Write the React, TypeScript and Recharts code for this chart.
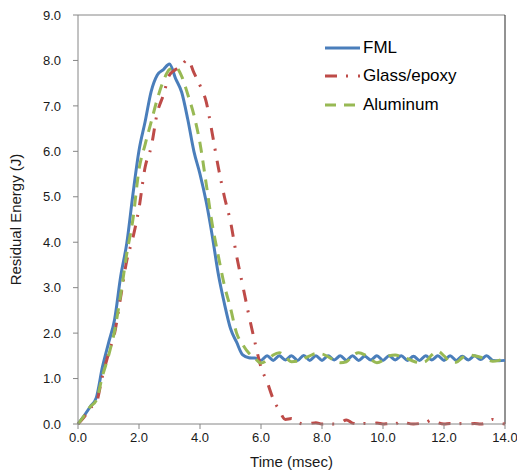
import React from 'react';
import {
  LineChart,
  Line,
  XAxis,
  YAxis,
  ReferenceLine,
} from 'recharts';

// time in msec, sampled every 0.2
const time = [
  0.0, 0.2, 0.4, 0.6, 0.8, 1.0, 1.2, 1.4, 1.6, 1.8,
  2.0, 2.2, 2.4, 2.6, 2.8, 3.0, 3.2, 3.4, 3.6, 3.8,
  4.0, 4.2, 4.4, 4.6, 4.8, 5.0, 5.2, 5.4, 5.6, 5.8,
  6.0, 6.2, 6.4, 6.6, 6.8, 7.0, 7.2, 7.4, 7.6, 7.8,
  8.0, 8.2, 8.4, 8.6, 8.8, 9.0, 9.2, 9.4, 9.6, 9.8,
  10.0, 10.2, 10.4, 10.6, 10.8, 11.0, 11.2, 11.4, 11.6, 11.8,
  12.0, 12.2, 12.4, 12.6, 12.8, 13.0, 13.2, 13.4, 13.6, 13.8,
  14.0,
];

const fml = [
  0.00, 0.18, 0.38, 0.58, 1.25, 1.78, 2.30, 3.25, 3.98, 5.05,
  6.02, 6.65, 7.32, 7.68, 7.80, 7.92, 7.60, 7.30, 6.70, 6.00,
  5.50, 4.90, 4.15, 3.30, 2.65, 2.10, 1.80, 1.52, 1.46, 1.45,
  1.40, 1.50, 1.40, 1.50, 1.41, 1.50, 1.40, 1.51, 1.40, 1.50,
  1.40, 1.50, 1.41, 1.50, 1.40, 1.50, 1.40, 1.49, 1.41, 1.50,
  1.40, 1.50, 1.41, 1.50, 1.40, 1.49, 1.40, 1.50, 1.41, 1.50,
  1.40, 1.50, 1.40, 1.49, 1.41, 1.50, 1.42, 1.50, 1.40, 1.39,
  1.40,
];

const glassEpoxy = [
  0.00, 0.15, 0.35, 0.47, 1.05, 1.55, 2.00, 2.80, 3.60, 4.10,
  4.75, 5.65, 6.10, 6.85, 7.24, 7.68, 7.80, 7.90, 8.02, 7.73,
  7.45, 7.10, 6.40, 5.65, 5.00, 4.45, 3.70, 3.05, 2.40, 1.80,
  1.25, 0.93, 0.55, 0.30, 0.10, 0.12, 0.04, 0.00, 0.01, 0.03,
  0.00, 0.01, 0.00, 0.02, 0.09, 0.02, 0.00, 0.01, 0.00, 0.02,
  0.00, 0.01, 0.00, 0.07, 0.02, 0.00, 0.01, 0.03, 0.09, 0.03,
  0.00, 0.01, 0.00, 0.01, 0.00, 0.01, 0.00, 0.03, 0.10, 0.03,
  0.00,
];

const aluminum = [
  0.00, 0.18, 0.38, 0.52, 1.05, 1.50, 2.05, 2.85, 3.75, 4.50,
  5.60, 6.15, 6.65, 7.15, 7.55, 7.80, 7.85, 7.65, 7.25, 6.80,
  6.18, 5.30, 4.40, 3.70, 3.05, 2.55, 2.00, 1.75, 1.56, 1.45,
  1.34, 1.40, 1.52, 1.57, 1.48, 1.37, 1.38, 1.44, 1.50, 1.55,
  1.54, 1.48, 1.40, 1.35, 1.37, 1.50, 1.57, 1.52, 1.42, 1.35,
  1.40, 1.50, 1.52, 1.48, 1.44, 1.38, 1.35, 1.38, 1.52, 1.60,
  1.50, 1.37, 1.36, 1.46, 1.52, 1.50, 1.47, 1.42, 1.38, 1.40,
  1.45,
];

const xTicks = [0, 2, 4, 6, 8, 10, 12, 14];
const yTicks = [0, 1, 2, 3, 4, 5, 6, 7, 8, 9];

const series = [
  { key: 'fml', name: 'FML', color: '#4A7EBB', dash: undefined },
  { key: 'glassEpoxy', name: 'Glass/epoxy', color: '#BE4B48', dash: '12 9 2 10' },
  { key: 'aluminum', name: 'Aluminum', color: '#98B954', dash: '11 8' },
];

const data = time.map((t, i) => ({
  time: t,
  fml: fml[i],
  glassEpoxy: glassEpoxy[i],
  aluminum: aluminum[i],
}));

const FONT = '"Liberation Sans", Arial, sans-serif';

export default function App() {
  return (
    <div style={{ position: 'absolute', left: 0, top: 0, width: 517, height: 471, fontFamily: FONT }}>
      <LineChart
        width={517}
        height={471}
        data={data}
        margin={{ top: 15, right: 12, bottom: 0, left: 0 }}
      >
        <XAxis
          dataKey="time"
          type="number"
          domain={[0, 14]}
          ticks={xTicks}
          tickFormatter={(v) => Number(v).toFixed(1)}
          height={47}
          tickSize={5}
          tickMargin={4}
          stroke="#868686"
          tick={{ fontSize: 13, fill: '#1a1a1a', fontFamily: FONT }}
          label={{
            content: ({ viewBox }: any) => (
              <text
                x={viewBox.x + viewBox.width / 2}
                y={viewBox.y + 43}
                textAnchor="middle"
                fontSize={15}
                fill="#1a1a1a"
                fontFamily={FONT}
              >
                Time (msec)
              </text>
            ),
          }}
        />
        <YAxis
          type="number"
          domain={[0, 9]}
          ticks={yTicks}
          tickFormatter={(v) => Number(v).toFixed(1)}
          width={78}
          tickSize={5}
          tickMargin={12}
          stroke="#868686"
          tick={{ fontSize: 13, fill: '#1a1a1a', fontFamily: FONT }}
          label={{
            content: ({ viewBox }: any) => {
              const cx = 21;
              const cy = viewBox.y + viewBox.height / 2;
              return (
                <text
                  x={cx}
                  y={cy}
                  transform={`rotate(-90 ${cx} ${cy})`}
                  textAnchor="middle"
                  fontSize={15}
                  fill="#1a1a1a"
                  fontFamily={FONT}
                >
                  Residual Energy (J)
                </text>
              );
            },
          }}
        />
        <ReferenceLine y={9} stroke="#868686" />
        <ReferenceLine x={14} stroke="#262626" />
        {series.map((s) => (
          <Line
            key={s.key}
            dataKey={s.key}
            name={s.name}
            type="monotone"
            stroke={s.color}
            strokeWidth={3}
            strokeDasharray={s.dash}
            dot={false}
            activeDot={false}
            isAnimationActive={false}
          />
        ))}
      </LineChart>

      <div style={{ position: 'absolute', left: 325, top: 34 }}>
        {series.map((s) => (
          <div key={s.key} style={{ display: 'flex', alignItems: 'center', height: 28.3 }}>
            <svg width={38} height={28}>
              <line
                x1={0}
                y1={14}
                x2={35}
                y2={14}
                stroke={s.color}
                strokeWidth={3}
                strokeDasharray={s.dash}
              />
            </svg>
            <span style={{ fontSize: 17, lineHeight: '28px', color: '#000' }}>{s.name}</span>
          </div>
        ))}
      </div>
    </div>
  );
}
